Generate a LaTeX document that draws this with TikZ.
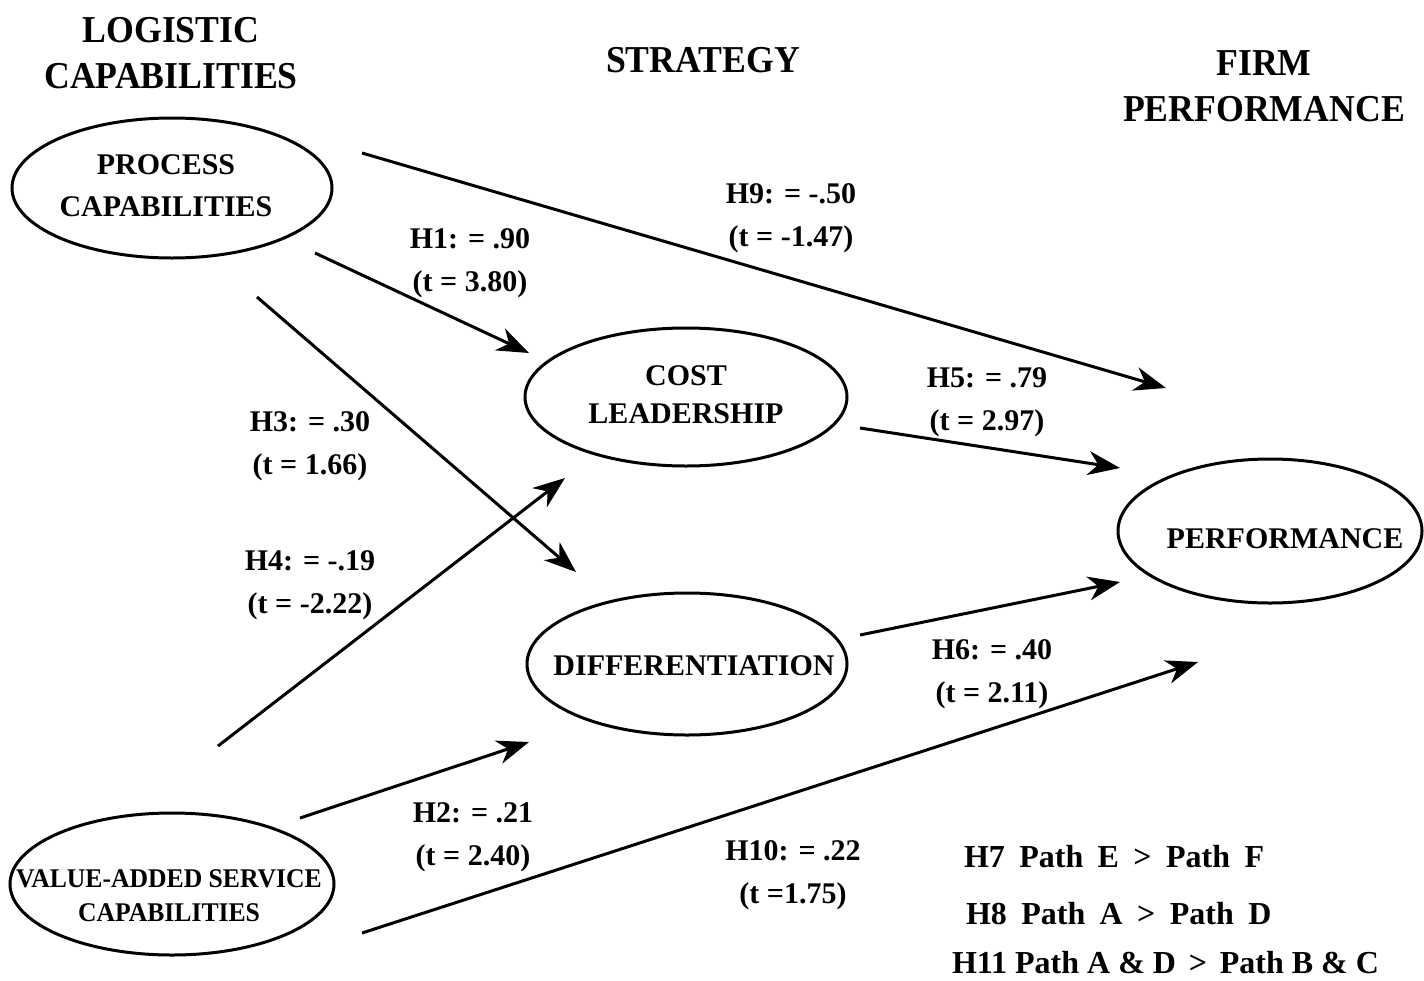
\documentclass[tikz,border=0pt]{standalone}
\usepackage{fontspec}
\setmainfont{Liberation Serif}
\newfontfamily\headfont[FakeStretch=0.94]{Liberation Serif}
\newfontfamily\narrowfont[FakeStretch=0.95]{Liberation Serif}
\usetikzlibrary{arrows.meta}
\begin{document}
\begin{tikzpicture}[x=0.5pt,y=-0.5pt,
  heading/.style={font=\headfont\fontsize{19}{23}\selectfont\bfseries,align=center},
  inner/.style={font=\fontsize{15}{21}\selectfont\bfseries,align=center},
  pathlabel/.style={font=\fontsize{15}{21.5}\selectfont\bfseries,align=center},
  legendline/.style={font=\fontsize{16}{19}\selectfont\bfseries,anchor=west},
  outline/.style={line width=1.5pt},
  path arrow/.style={line width=1.5pt,-{Stealth[length=16pt,width=12pt,inset=5pt]}}]
\useasboundingbox (0,0) rectangle (1424,980);

% column headings
\node[heading] (hlog) at (171,53) {LOGISTIC\\CAPABILITIES};
\node[heading] (hstr) at (703,60) {STRATEGY};
\node[heading] (hperf) at (1264,86) {FIRM\\PERFORMANCE};

% constructs
\draw[outline] (172,188) ellipse [x radius=160,y radius=70];
\node[inner] (proc) at (166,186) {PROCESS\\CAPABILITIES};
\draw[outline] (686,397) ellipse [x radius=161,y radius=69];
\node[inner,font=\fontsize{15}{19}\selectfont\bfseries] (cost) at (686,395) {COST\\LEADERSHIP};
\draw[outline] (687,664) ellipse [x radius=160,y radius=71];
\node[inner] (diff) at (694,666) {DIFFERENTIATION};
\draw[outline] (1270,531) ellipse [x radius=152,y radius=72];
\node[inner] (perf) at (1285,539) {PERFORMANCE};
\draw[outline] (172,884) ellipse [x radius=162,y radius=71];
\node[inner,font=\narrowfont\fontsize{13.5}{17}\selectfont\bfseries] (vas) at (169,896) {VALUE-ADDED SERVICE\\CAPABILITIES};

% connector end points
\coordinate (h9s) at (362,153);  \coordinate (h9e) at (1166,388);
\coordinate (h1s) at (315,253);  \coordinate (h1e) at (529,353);
\coordinate (h3s) at (257,297);  \coordinate (h3e) at (576,572);
\coordinate (h4s) at (218,746);  \coordinate (h4e) at (565,478);
\coordinate (h2s) at (300,818);  \coordinate (h2e) at (529,742);
\coordinate (h10s) at (362,933); \coordinate (h10e) at (1198,662);
\coordinate (h5s) at (860,428);  \coordinate (h5e) at (1120,468);
\coordinate (h6s) at (860,635);  \coordinate (h6e) at (1120,582);

\draw[path arrow] (h9s) -- (h9e);
\draw[path arrow] (h1s) -- (h1e);
\draw[path arrow] (h3s) -- (h3e);
\draw[path arrow] (h4s) -- (h4e);
\draw[path arrow] (h2s) -- (h2e);
\draw[path arrow] (h10s) -- (h10e);
\draw[path arrow] (h5s) -- (h5e);
\draw[path arrow] (h6s) -- (h6e);

% path estimates
\node[pathlabel] (l9) at (791,218) {H9: = -.50\\(t = -1.47)};
\node[pathlabel] (l1) at (470,263) {H1: = .90\\(t = 3.80)};
\node[pathlabel] (l5) at (987,402) {H5: = .79\\(t = 2.97)};
\node[pathlabel] (l3) at (310,446) {H3: = .30\\(t = 1.66)};
\node[pathlabel] (l4) at (310,585) {H4: = -.19\\(t = -2.22)};
\node[pathlabel] (l6) at (992,674) {H6: = .40\\(t = 2.11)};
\node[pathlabel] (l2) at (473,837) {H2: = .21\\(t = 2.40)};
\node[pathlabel] (l10) at (793,875) {H10: = .22\\(t =1.75)};

% comparison hypotheses
\node[legendline] (h7) at (957,857) {H7\hspace{0.45em}Path\hspace{0.45em}E\hspace{0.45em}>\hspace{0.45em}Path\hspace{0.45em}F};
\node[legendline] (h8) at (959,914) {H8\hspace{0.45em}Path\hspace{0.45em}A\hspace{0.45em}>\hspace{0.45em}Path\hspace{0.45em}D};
\node[legendline] (h11) at (945,963) {H11 Path A \& D\hspace{0.4em}>\hspace{0.4em}Path B \& C};
\end{tikzpicture}
\end{document}
